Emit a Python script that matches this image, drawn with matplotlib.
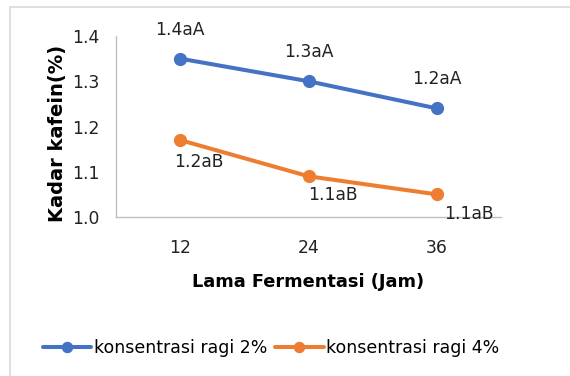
import matplotlib
matplotlib.use("Agg")
import matplotlib.pyplot as plt
from matplotlib.patches import Rectangle

categories = ["12", "24", "36"]
series_names = ["konsentrasi ragi 2%", "konsentrasi ragi 4%"]
ragi_2 = [1.35, 1.30, 1.24]
ragi_4 = [1.17, 1.09, 1.05]
labels_2 = ["1.4aA", "1.3aA", "1.2aA"]
labels_4 = ["1.2aB", "1.1aB", "1.1aB"]
y_ticks = [1.0, 1.1, 1.2, 1.3, 1.4]

plt.rcParams['font.family'] = ['DejaVu Sans']
W, H = 570, 376
fig = plt.figure(figsize=(W / 100, H / 100), dpi=100)

# outer chart border (cropped at right/bottom)
fig.patches.append(Rectangle((10.5 / W, -0.1), 2, (H - 6.5) / H + 0.1,
                             transform=fig.transFigure, fill=False,
                             edgecolor="#D9D9D9", linewidth=1.2))

left, right, top, bottom = 116, 501, 36, 217
ax = fig.add_axes([left / W, (H - bottom) / H, (right - left) / W, (bottom - top) / H])

blue = "#4472C4"
orange = "#ED7D31"
x = list(range(len(categories)))
ax.plot(x, ragi_2, color=blue, lw=2.9, marker="o", ms=8.5, label=series_names[0],
        solid_capstyle="round", clip_on=False, zorder=3)
ax.plot(x, ragi_4, color=orange, lw=2.9, marker="o", ms=8.5, label=series_names[1],
        solid_capstyle="round", clip_on=False, zorder=3)

ax.set_xlim(-0.5, len(categories) - 0.5)
ax.set_ylim(1.0, 1.4)
ax.set_xticks(x)
ax.set_xticklabels(categories)
ax.set_yticks(y_ticks)
ax.set_yticklabels([f"{v:.1f}" for v in y_ticks])
ax.tick_params(length=0, labelsize=12.3, colors="#222222", pad=16)
ax.tick_params(axis="y", pad=12)
for s in ["top", "right"]:
    ax.spines[s].set_visible(False)
for s in ["left", "bottom"]:
    ax.spines[s].set_color("#BFBFBF")
    ax.spines[s].set_linewidth(1.0)
ax.patch.set_alpha(0)

# data labels
offsets_2 = [(0, 29), (0, 29), (0, 29)]
offsets_4 = [(19, -22), (24, -19), (32, -20)]
for xi, yi, t, (dx, dy) in zip(x, ragi_2, labels_2, offsets_2):
    ax.annotate(t, (xi, yi), xytext=(dx, dy), textcoords="offset pixels",
                ha="center", va="center", fontsize=12.3, color="#222222")
for xi, yi, t, (dx, dy) in zip(x, ragi_4, labels_4, offsets_4):
    ax.annotate(t, (xi, yi), xytext=(dx, dy), textcoords="offset pixels",
                ha="center", va="center", fontsize=12.3, color="#222222",
                annotation_clip=False)

fig.text(58 / W, 1 - 133 / H, "Kadar kafein(%)", rotation=90, ha="center", va="center",
         fontsize=14, fontweight="bold")
fig.text(308 / W, 1 - 282 / H, "Lama Fermentasi (Jam)", ha="center", va="center",
         fontsize=12.8, fontweight="bold")

fig.legend(loc="center", bbox_to_anchor=(271 / W, 1 - 348 / H), ncol=2, frameon=False,
           fontsize=12.5, handlelength=2.8, handletextpad=0.15, columnspacing=0.45,
           borderaxespad=0, borderpad=0, markerscale=0.85)

fig.savefig("out.png", dpi=100)
